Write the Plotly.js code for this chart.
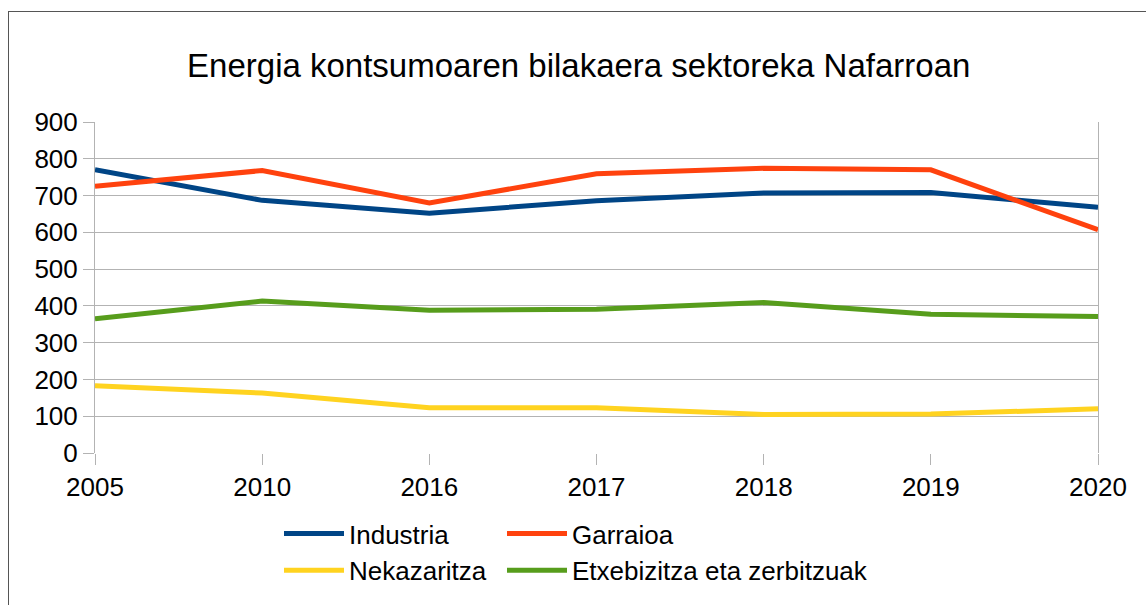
<!DOCTYPE html>
<html>
<head>
<meta charset="utf-8">
<script src="https://cdn.plot.ly/plotly-3.0.1.min.js"></script>
<style>
html,body{margin:0;padding:0;background:#fff;}
#wrap{position:relative;width:1146px;height:605px;overflow:hidden;}
#chart{position:absolute;left:0;top:0;width:1146px;height:605px;}
#frame{position:absolute;left:8px;top:11px;width:1200px;height:700px;border-left:1px solid #555;border-top:1px solid #555;pointer-events:none;}
</style>
</head>
<body>
<div id="wrap"><div id="chart"></div><div id="frame"></div></div>
<script>
const years = ["2005","2010","2016","2017","2018","2019","2020"];
const industria   = [770, 687, 652, 686, 707, 708, 668];
const garraioa    = [725, 768, 680, 759, 774, 770, 607];
const nekazaritza = [183, 163, 123, 123, 105, 106, 120];
const etxebizitza = [365, 413, 388, 391, 409, 377, 371];
const yTicks = [0,100,200,300,400,500,600,700,800,900];

const names = ["Industria","Garraioa","Nekazaritza","Etxebizitza eta zerbitzuak"];
const colors = ["#004586","#ff420e","#ffd320","#579d1c"];
const series = [industria, garraioa, nekazaritza, etxebizitza];
const legendOf = ["legend","legend2","legend","legend2"];

const traces = series.map((s,i)=>({
  type:"scatter", mode:"lines", x:years, y:s, name:names[i],
  line:{color:colors[i], width:5}, legend:legendOf[i], legendgroup:"g"+i
}));

const legendCommon = {
  orientation:"v", xref:"container", yref:"container",
  xanchor:"left", yanchor:"top",
  font:{family:"Liberation Sans, Arial, sans-serif", size:26, color:"#000"},
  bgcolor:"rgba(0,0,0,0)", itemwidth:60, tracegroupgap:9, traceorder:"normal"
};

const layout = {
  width:1146, height:605,
  margin:{l:95, r:48, t:122, b:152, autoexpand:false},
  paper_bgcolor:"#fff", plot_bgcolor:"#fff",
  font:{family:"Liberation Sans, Arial, sans-serif", color:"#000"},
  title:{text:"Energia kontsumoaren bilakaera sektoreka Nafarroan",
         font:{size:33, color:"#000"}, xref:"container", x:0.505, xanchor:"center",
         yref:"container", y:1-65/605, yanchor:"middle"},
  xaxis:{type:"category", range:[0, years.length-1], showgrid:false,
         ticks:"outside", ticklen:11, tickcolor:"#b3b3b3", tickwidth:1, tickangle:0,
         showline:false, zeroline:false, tickfont:{size:26, color:"#000"}},
  yaxis:{range:[0,900], tickvals:yTicks, ticktext:yTicks.map(String),
         showgrid:true, gridcolor:"#b3b3b3", gridwidth:1,
         showline:true, linecolor:"#b3b3b3", linewidth:1, mirror:true,
         ticks:"outside", ticklen:11, tickcolor:"#b3b3b3",
         zeroline:false, tickfont:{size:26, color:"#000"}},
  legend:Object.assign({}, legendCommon, {x:279/1146, y:1-510/605}),
  legend2:Object.assign({}, legendCommon, {x:502/1146, y:1-510/605}),
  showlegend:true
};

Plotly.newPlot("chart", traces, layout, {displayModeBar:false, staticPlot:true});
</script>
</body>
</html>
